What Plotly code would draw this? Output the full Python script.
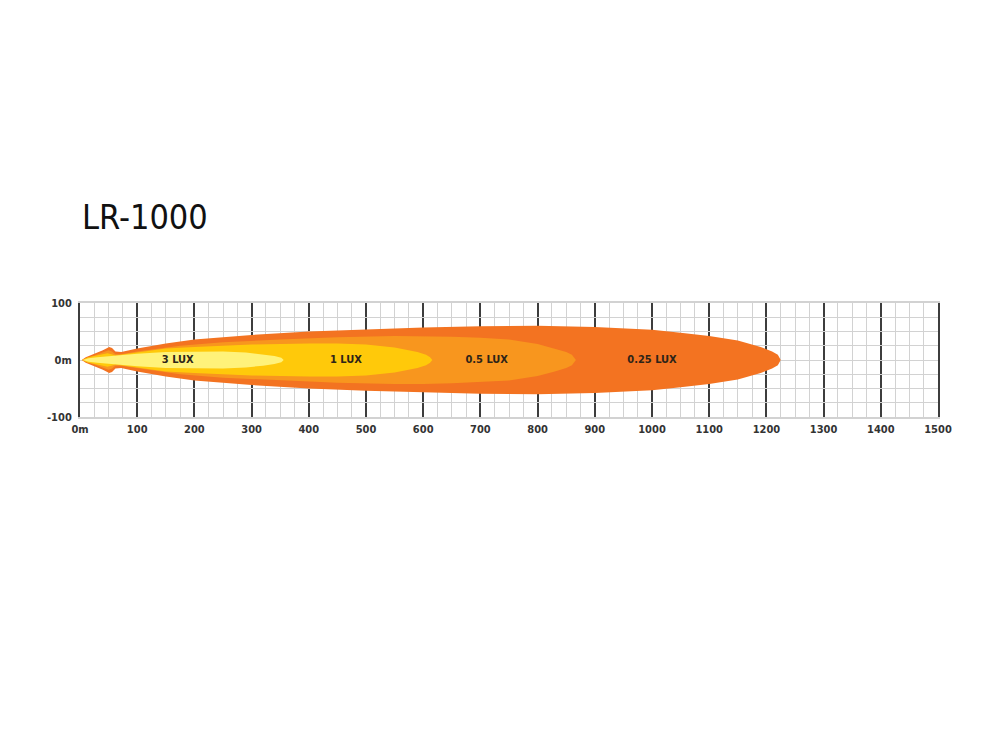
import plotly.graph_objects as go

# ---- data ----
title_text = "LR-1000"
zone_names = ["0.25 LUX", "0.5 LUX", "1 LUX", "3 LUX"]
zone_colors = ["#F37321", "#F8961E", "#FFC90A", "#FFF27A"]

x_025 = [3, 10, 25, 40, 51, 56, 62, 72, 100, 150, 200, 300, 400, 500, 600, 700, 800, 900, 1000, 1050, 1100, 1150, 1190, 1210, 1220, 1225]
hw_025 = [0, 5, 11, 17, 23, 21, 15, 14, 20, 29, 36, 44, 50, 54, 57, 59, 60, 58, 53, 48, 42, 34, 23, 15, 9, 0]

x_05 = [4, 12, 25, 40, 50, 56, 62, 72, 100, 175, 250, 350, 450, 550, 600, 650, 700, 750, 800, 830, 850, 860, 867]
hw_05 = [0, 4, 8, 13, 17, 15, 10, 10, 15, 25, 31, 36, 40, 42, 42, 41, 39, 36, 28, 20, 14, 9, 0]

x_1 = [4, 12, 25, 40, 48, 55, 62, 100, 150, 200, 300, 400, 450, 500, 550, 590, 605, 612, 616]
hw_1 = [0, 4, 7, 10, 12, 10, 8, 13, 20, 23, 27, 29, 29, 27, 22, 14, 9, 5, 0]

x_3 = [5, 15, 30, 60, 100, 150, 200, 250, 290, 320, 340, 352, 356]
hw_3 = [0, 3, 5, 8, 11, 14, 15, 15, 13, 10, 7, 4, 0]

label_x = [1000, 711, 465, 171]
label_y = [0, 0, 0, 0]

x_tick_vals = list(range(0, 1501, 100))
x_tick_text = ["0m"] + [str(v) for v in range(100, 1501, 100)]
y_tick_vals = [-100, -75, -50, -25, 0, 25, 50, 75, 100]
y_tick_text = ["-100", "", "", "", "0m", "", "", "", "100"]

profiles = [(x_025, hw_025), (x_05, hw_05), (x_1, hw_1), (x_3, hw_3)]

FONT = "DejaVu Sans Condensed, DejaVu Sans, sans-serif"
DARK = "#3d3d3d"
LIGHT = "#d2d2d2"

fig = go.Figure()
for (xs, hws), name, col in zip(profiles, zone_names, zone_colors):
    px = list(xs) + list(reversed(xs))
    py = list(hws) + [-h for h in reversed(hws)]
    fig.add_trace(go.Scatter(x=px, y=py, fill="toself", fillcolor=col, mode="lines",
                             line=dict(width=0, color=col), name=name, hoverinfo="name",
                             showlegend=False))

fig.add_trace(go.Scatter(x=label_x, y=label_y, mode="text", text=zone_names,
                         textfont=dict(family=FONT, size=11, color="#2e2418", weight="bold"),
                         showlegend=False, hoverinfo="skip"))

fig.update_layout(
    width=1000, height=750,
    paper_bgcolor="white", plot_bgcolor="white",
    margin=dict(l=72, r=70, t=295, b=341),
    title=dict(text=title_text, x=0.074, xanchor="left", y=0.7213, yanchor="middle",
               font=dict(family=FONT, size=34, color="#111111")),
    showlegend=False,
)
fig.update_xaxes(
    range=[0, 1500], tickmode="array", tickvals=x_tick_vals, ticktext=x_tick_text,
    showgrid=True, gridcolor=DARK, gridwidth=2, zeroline=False,
    showline=True, linecolor=LIGHT, linewidth=2, mirror=True,
    ticks="", ticklabelstandoff=1,
    tickfont=dict(family=FONT, size=11, color="#333333", weight="bold"),
    minor=dict(dtick=25, tick0=0, showgrid=True, gridcolor=LIGHT, gridwidth=1),
    fixedrange=True,
)
fig.update_yaxes(
    range=[-100, 100], tickmode="array", tickvals=y_tick_vals, ticktext=y_tick_text,
    showgrid=True, gridcolor=LIGHT, gridwidth=1, zeroline=False,
    showline=True, linecolor=DARK, linewidth=2, mirror=True,
    ticks="", ticklabelstandoff=4,
    tickfont=dict(family=FONT, size=11, color="#333333", weight="bold"),
    fixedrange=True,
)

fig.write_html("out.html")
